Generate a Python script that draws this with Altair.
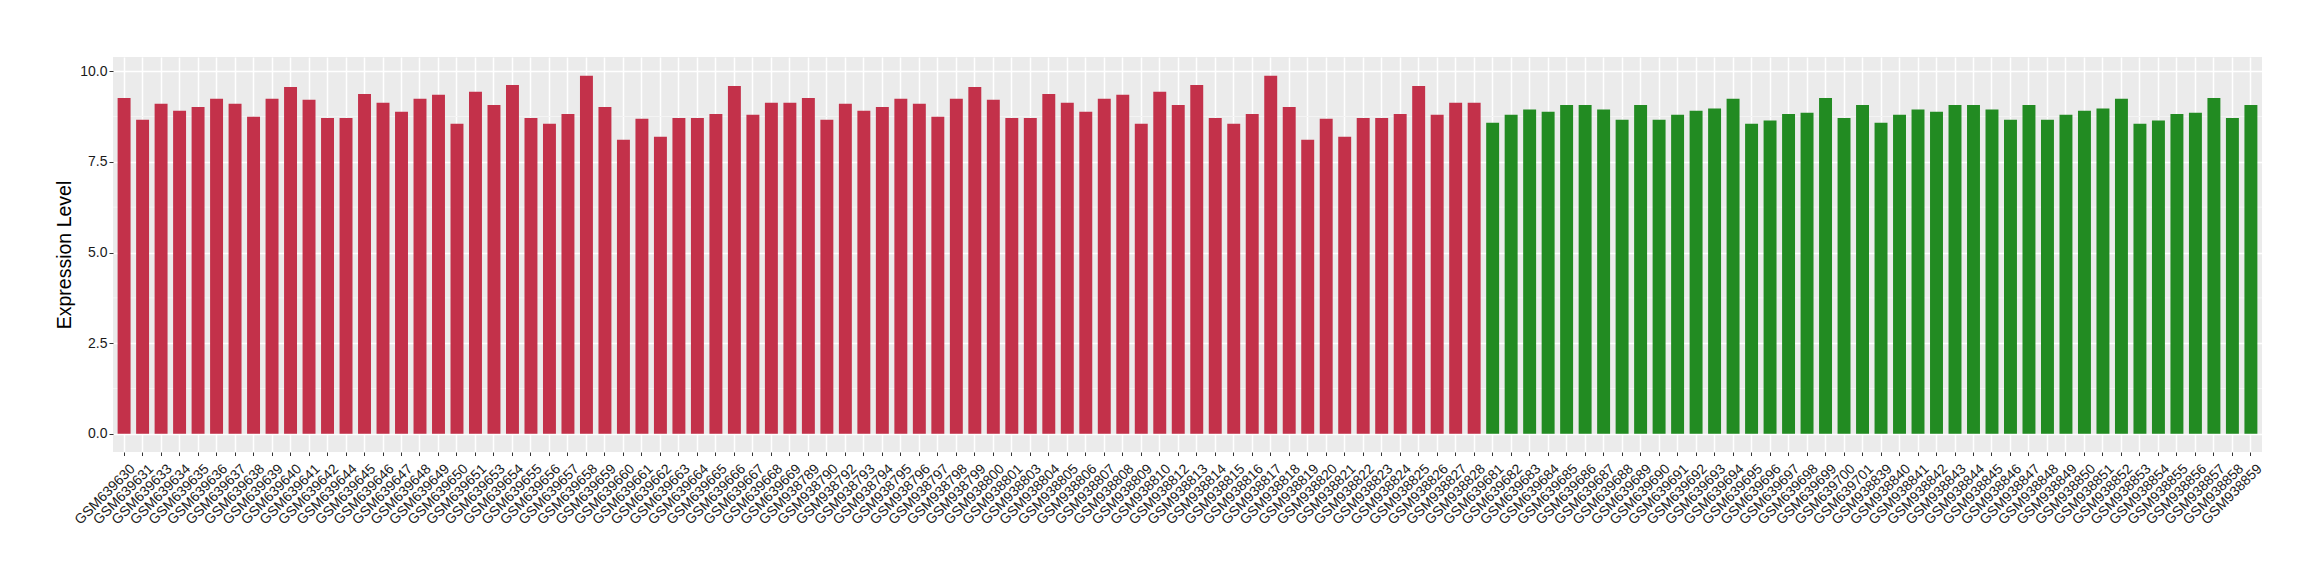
import altair as alt
import pandas as pd

samples = [
    "GSM639630", "GSM639631", "GSM639633", "GSM639634", "GSM639635", "GSM639636", "GSM639637", "GSM639638",
    "GSM639639", "GSM639640", "GSM639641", "GSM639642", "GSM639644", "GSM639645", "GSM639646", "GSM639647",
    "GSM639648", "GSM639649", "GSM639650", "GSM639651", "GSM639653", "GSM639654", "GSM639655", "GSM639656",
    "GSM639657", "GSM639658", "GSM639659", "GSM639660", "GSM639661", "GSM639662", "GSM639663", "GSM639664",
    "GSM639665", "GSM639666", "GSM639667", "GSM639668", "GSM639669",
    "GSM938789", "GSM938790", "GSM938792", "GSM938793", "GSM938794", "GSM938795", "GSM938796", "GSM938797",
    "GSM938798", "GSM938799", "GSM938800", "GSM938801", "GSM938803", "GSM938804", "GSM938805", "GSM938806",
    "GSM938807", "GSM938808", "GSM938809", "GSM938810", "GSM938812", "GSM938813", "GSM938814", "GSM938815",
    "GSM938816", "GSM938817", "GSM938818", "GSM938819", "GSM938820", "GSM938821", "GSM938822", "GSM938823",
    "GSM938824", "GSM938825", "GSM938826", "GSM938827", "GSM938828",
    "GSM639681", "GSM639682", "GSM639683", "GSM639684", "GSM639685", "GSM639686", "GSM639687", "GSM639688",
    "GSM639689", "GSM639690", "GSM639691", "GSM639692", "GSM639693", "GSM639694", "GSM639695", "GSM639696",
    "GSM639697", "GSM639698", "GSM639699", "GSM639700", "GSM639701",
    "GSM938839", "GSM938840", "GSM938841", "GSM938842", "GSM938843", "GSM938844", "GSM938845", "GSM938846",
    "GSM938847", "GSM938848", "GSM938849", "GSM938850", "GSM938851", "GSM938852", "GSM938853", "GSM938854",
    "GSM938855", "GSM938856", "GSM938857", "GSM938858", "GSM938859",
]

values = [
    9.26, 8.66, 9.10, 8.91, 9.01, 9.24, 9.10, 8.74, 9.24, 9.56, 9.21, 8.71,
    8.71, 9.37, 9.13, 8.88, 9.24, 9.35, 8.55, 9.43, 9.07, 9.62, 8.71, 8.55,
    8.82, 9.87, 9.01, 8.11, 8.69, 8.19, 8.71, 8.71, 8.82, 9.59, 8.80, 9.13, 9.13,
    9.26, 8.66, 9.10, 8.91, 9.01, 9.24, 9.10, 8.74, 9.24, 9.56, 9.21, 8.71,
    8.71, 9.37, 9.13, 8.88, 9.24, 9.35, 8.55, 9.43, 9.07, 9.62, 8.71, 8.55,
    8.82, 9.87, 9.01, 8.11, 8.69, 8.19, 8.71, 8.71, 8.82, 9.59, 8.80, 9.13, 9.13,
    8.58, 8.80, 8.94, 8.88, 9.07, 9.07, 8.94, 8.66, 9.07, 8.66, 8.80, 8.91,
    8.97, 9.24, 8.55, 8.64, 8.82, 8.85, 9.26, 8.71, 9.07,
    8.58, 8.80, 8.94, 8.88, 9.07, 9.07, 8.94, 8.66, 9.07, 8.66, 8.80, 8.91,
    8.97, 9.24, 8.55, 8.64, 8.82, 8.85, 9.26, 8.71, 9.07,
]

groups = ["Group 1"] * 74 + ["Group 2"] * 42
group_names = ["Group 1", "Group 2"]
group_colors = ["#C3314A", "#228B22"]

y_major = [0, 2.5, 5, 7.5, 10]
y_minor = [1.25, 3.75, 6.25, 8.75]

df = pd.DataFrame({"sample": samples, "value": values, "group": groups})
minor_df = pd.DataFrame({"y": y_minor})

FONT = "Liberation Sans"
W, H = 2149, 395

y_scale = alt.Scale(domain=[-0.5, 10.39], nice=False, zero=False)

y_axis = alt.Axis(
    title="Expression Level",
    values=y_major,
    format=".1f",
    labelFont=FONT,
    labelFontSize=14,
    labelColor="#1A1A1A",
    labelPadding=2,
    tickColor="#333333",
    tickSize=4,
    domain=False,
    grid=True,
    gridColor="#FFFFFF",
    gridWidth=1.5,
    titleFont=FONT,
    titleFontSize=19.5,
    titleFontWeight="normal",
    titleColor="#000000",
    titleX=-39,
    titleY=H / 2,
    titleBaseline="bottom",
    titleAngle=-90,
)

minor = alt.Chart(minor_df).mark_rule(color="#F4F4F4", strokeWidth=1).encode(
    y=alt.Y("y:Q", scale=y_scale, axis=y_axis)
)

bars = alt.Chart(df).mark_bar().encode(
    x=alt.X(
        "sample:N",
        sort=samples,
        scale=alt.Scale(paddingInner=0.3, paddingOuter=0.25),
        axis=alt.Axis(
            title=None,
            labelAngle=-45,
            labelFont=FONT,
            labelFontSize=14,
            labelColor="#1A1A1A",
            labelPadding=6,
            labelOffset=4,
            tickColor="#333333",
            tickSize=3.5,
            domain=False,
            grid=True,
            gridColor="#FFFFFF",
            gridWidth=1.5,
            bandPosition=0.5,
            labelOverlap=False,
        ),
    ),
    y=alt.Y("value:Q", scale=y_scale, axis=y_axis),
    color=alt.Color("group:N", scale=alt.Scale(domain=group_names, range=group_colors), legend=None),
)

chart = (
    alt.layer(minor, bars)
    .properties(
        width=W,
        height=H,
        autosize=alt.AutoSizeParams(type="none"),
        padding={"left": 105, "top": 49, "right": 50, "bottom": 120},
    )
    .configure_view(fill="#EBEBEB", stroke=None)
)

chart.save("out.html", embed_options={"renderer": "svg", "actions": False})
